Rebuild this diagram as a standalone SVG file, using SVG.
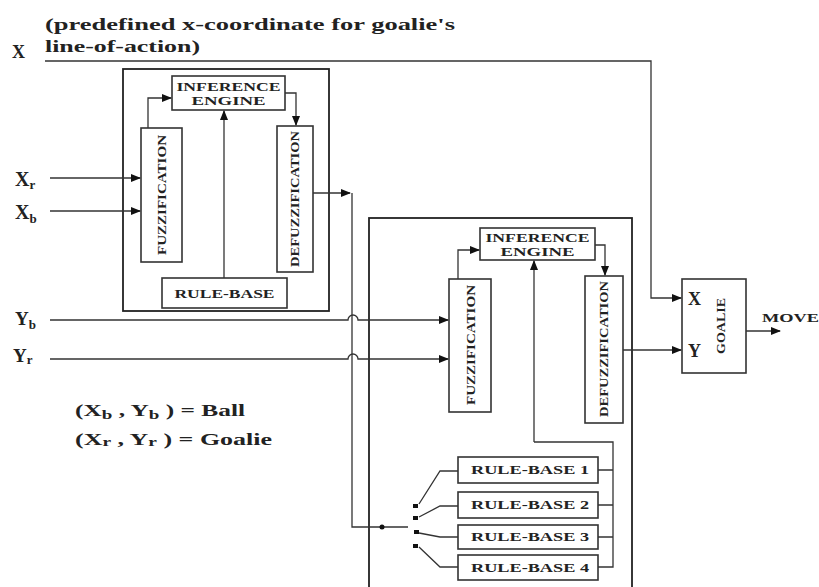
<svg xmlns="http://www.w3.org/2000/svg" width="819" height="587" viewBox="0 0 819 587">
<defs>
<marker id="ah" markerWidth="10" markerHeight="8" refX="9" refY="4" orient="auto" markerUnits="userSpaceOnUse">
<path d="M0,0 L10,4 L0,8 Z" fill="#111"/>
</marker>
<style>
.b{fill:#fff;stroke:#333;stroke-width:1.6}
.o{fill:none;stroke:#222;stroke-width:1.8}
.l{fill:none;stroke:#333;stroke-width:1.3}
.t{font-family:"Liberation Serif","DejaVu Serif",serif;font-weight:bold;fill:#222}
.s{font-size:12px;text-anchor:middle}
</style>
</defs>
<rect width="819" height="587" fill="#fff"/>

<g id="labels">
<text class="t" x="45" y="30" font-size="16" textLength="410" lengthAdjust="spacingAndGlyphs">(predefined x-coordinate for goalie's</text>
<text class="t" x="45" y="52" font-size="16" textLength="155" lengthAdjust="spacingAndGlyphs">line-of-action)</text>
<text class="t" x="12" y="58" font-size="18">X</text>
<text class="t" x="15" y="186" font-size="20">X<tspan font-size="13" dy="3">r</tspan></text>
<text class="t" x="15" y="219" font-size="20">X<tspan font-size="13" dy="4">b</tspan></text>
<text class="t" x="15" y="325" font-size="19">Y<tspan font-size="13" dy="4">b</tspan></text>
<text class="t" x="13" y="362" font-size="19">Y<tspan font-size="13" dy="2">r</tspan></text>
<text class="t" x="75" y="416" font-size="16" textLength="170" lengthAdjust="spacingAndGlyphs">(X<tspan font-size="12" dy="3">b</tspan><tspan dy="-3"> , Y</tspan><tspan font-size="12" dy="3">b</tspan><tspan dy="-3"> ) = Ball</tspan></text>
<text class="t" x="75" y="445" font-size="16" textLength="197" lengthAdjust="spacingAndGlyphs">(X<tspan font-size="12" dy="1">r</tspan><tspan dy="-1"> , Y</tspan><tspan font-size="12" dy="1">r</tspan><tspan dy="-1"> ) = Goalie</tspan></text>
<text class="t" x="762" y="322" font-size="13" textLength="57" lengthAdjust="spacingAndGlyphs">MOVE</text>
</g>

<g id="controller1">
<rect class="o" x="123" y="69" width="206" height="242"/>
</g>
<g id="inference1">
<rect class="b" x="172" y="76" width="113" height="34"/>
<text class="t s" x="228.5" y="91" textLength="104" lengthAdjust="spacingAndGlyphs">INFERENCE</text>
<text class="t s" x="228.5" y="105" textLength="74" lengthAdjust="spacingAndGlyphs">ENGINE</text>
</g>
<g id="fuzz1">
<rect class="b" x="141" y="128" width="41" height="134"/>
<text class="t s" transform="translate(166,195) rotate(-90)" textLength="120" lengthAdjust="spacingAndGlyphs">FUZZIFICATION</text>
</g>
<g id="defuzz1">
<rect class="b" x="277" y="126" width="36" height="146"/>
<text class="t s" transform="translate(299,199) rotate(-90)" textLength="136" lengthAdjust="spacingAndGlyphs">DEFUZZIFICATION</text>
</g>
<g id="rulebase1">
<rect class="b" x="162" y="278" width="125" height="30"/>
<text class="t s" x="224.5" y="298" textLength="100" lengthAdjust="spacingAndGlyphs">RULE-BASE</text>
</g>

<g id="controller2">
<rect class="o" x="369" y="218" width="263" height="380"/>
</g>
<g id="inference2">
<rect class="b" x="480" y="228" width="115" height="32"/>
<text class="t s" x="537.5" y="242" textLength="104" lengthAdjust="spacingAndGlyphs">INFERENCE</text>
<text class="t s" x="537.5" y="256" textLength="74" lengthAdjust="spacingAndGlyphs">ENGINE</text>
</g>
<g id="fuzz2">
<rect class="b" x="449" y="279" width="42" height="133"/>
<text class="t s" transform="translate(475,345) rotate(-90)" textLength="120" lengthAdjust="spacingAndGlyphs">FUZZIFICATION</text>
</g>
<g id="defuzz2">
<rect class="b" x="585" y="276" width="38" height="147"/>
<text class="t s" transform="translate(608,349) rotate(-90)" textLength="136" lengthAdjust="spacingAndGlyphs">DEFUZZIFICATION</text>
</g>
<g id="rb1"><rect class="b" x="458" y="457" width="140" height="26"/><text class="t s" x="530" y="474" textLength="118" lengthAdjust="spacingAndGlyphs">RULE-BASE 1</text></g>
<g id="rb2"><rect class="b" x="458" y="492" width="140" height="26"/><text class="t s" x="530" y="509" textLength="118" lengthAdjust="spacingAndGlyphs">RULE-BASE 2</text></g>
<g id="rb3"><rect class="b" x="458" y="525" width="140" height="24"/><text class="t s" x="530" y="541" textLength="118" lengthAdjust="spacingAndGlyphs">RULE-BASE 3</text></g>
<g id="rb4"><rect class="b" x="458" y="555" width="140" height="25"/><text class="t s" x="530" y="572" textLength="118" lengthAdjust="spacingAndGlyphs">RULE-BASE 4</text></g>

<g id="goalie">
<rect class="b" x="682" y="279" width="64" height="94"/>
<text class="t" x="688" y="305" font-size="18">X</text>
<text class="t" x="688" y="357" font-size="18">Y</text>
<text class="t s" transform="translate(725,326) rotate(-90)" textLength="56" lengthAdjust="spacingAndGlyphs">GOALIE</text>
</g>

<g id="connectors">
<path class="l" d="M45,61 H651 V298 H681" marker-end="url(#ah)"/>
<path class="l" d="M50,178 H140" marker-end="url(#ah)"/>
<path class="l" d="M50,211 H140" marker-end="url(#ah)"/>
<path class="l" d="M148,128 V98 H171" marker-end="url(#ah)"/>
<path class="l" d="M224,278 V111" marker-end="url(#ah)"/>
<path class="l" d="M285,93 H296 V125" marker-end="url(#ah)"/>
<path class="l" d="M313,193 H350" marker-end="url(#ah)"/>
<path class="l" d="M352,193 V527 H408"/>
<path class="l" d="M50,320 H348 a5,5 0 0 1 10,0 H448" marker-end="url(#ah)"/>
<path class="l" d="M50,359 H348 a5,5 0 0 1 10,0 H448" marker-end="url(#ah)"/>
<path class="l" d="M458,279 V250 H479" marker-end="url(#ah)"/>
<path class="l" d="M534,442 V261" marker-end="url(#ah)"/>
<path class="l" d="M595,245 H605 V275" marker-end="url(#ah)"/>
<path class="l" d="M623,350 H681" marker-end="url(#ah)"/>
<path class="l" d="M746,331 H780" marker-end="url(#ah)"/>
<path class="l" d="M534,442 H613 V567 H598 M598,470 H613 M598,505 H613 M598,537 H613"/>
<path class="l" d="M419,504 L440,471 H458 M419,517 L440,506 H458 M419,533 L440,537 H458 M419,547 L440,567 H458"/>
<circle cx="382" cy="527" r="2.5" fill="#111"/>
<rect x="413" y="504" width="5" height="4" fill="#111"/>
<rect x="413" y="516" width="5" height="4" fill="#111"/>
<rect x="414" y="530" width="5" height="4" fill="#111"/>
<rect x="413" y="544" width="5" height="4" fill="#111"/>
</g>
</svg>
